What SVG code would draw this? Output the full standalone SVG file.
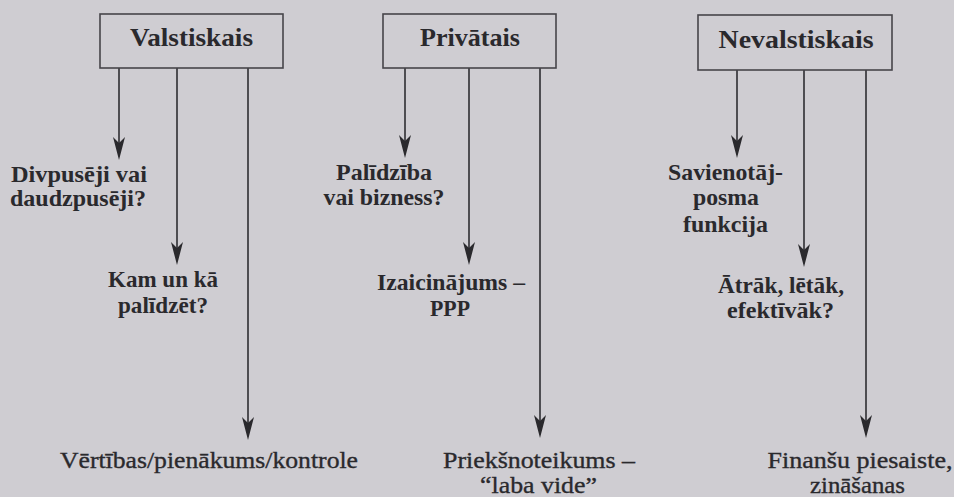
<svg xmlns="http://www.w3.org/2000/svg" width="954" height="497" viewBox="0 0 954 497">
<style>
.bg{fill:#cfcdd2}
.box{fill:#cfcdd2;stroke:#46454a;stroke-width:1.6}
.t{font-family:"Liberation Serif","Times New Roman",serif;fill:#2a292d}
.h{font-size:25px;font-weight:bold;text-anchor:middle}
.m{font-size:23px;font-weight:bold}
.c{text-anchor:middle}
.b{font-size:24px;text-anchor:middle;stroke:#2a292d;stroke-width:0.35}
.ln{stroke:#2e2d31;stroke-width:1.6;fill:none;marker-end:url(#ah)}
</style>
<defs>
<marker id="ah" markerUnits="userSpaceOnUse" viewBox="-24 -7 25 14" markerWidth="25" markerHeight="14" refX="-6" refY="0" orient="auto">
<path d="M0,0 L-23,-6 L-17,0 L-23,6 Z" fill="#2a292d"/>
</marker>
</defs>
<rect class="bg" x="0" y="0" width="954" height="497"/>

<g id="connectors">
<line class="ln" x1="119" y1="68" x2="119" y2="154"/>
<line class="ln" x1="177" y1="68" x2="177" y2="259"/>
<line class="ln" x1="248" y1="68" x2="248" y2="434"/>
<line class="ln" x1="405" y1="68" x2="405" y2="152"/>
<line class="ln" x1="469" y1="68" x2="469" y2="259"/>
<line class="ln" x1="540" y1="68" x2="540" y2="432"/>
<line class="ln" x1="737" y1="70" x2="737" y2="152"/>
<line class="ln" x1="804" y1="70" x2="804" y2="261"/>
<line class="ln" x1="866" y1="70" x2="866" y2="432"/>
</g>

<g id="valstiskais">
<rect class="box" x="100" y="14" width="183" height="54"/>
<text class="t h" x="191.5" y="46" textLength="123" lengthAdjust="spacingAndGlyphs">Valstiskais</text>
</g>
<g id="privatais">
<rect class="box" x="383" y="14" width="173" height="54"/>
<text class="t h" x="470" y="46" textLength="100" lengthAdjust="spacingAndGlyphs">Privātais</text>
</g>
<g id="nevalstiskais">
<rect class="box" x="698" y="15" width="194" height="55"/>
<text class="t h" x="796" y="48" textLength="155" lengthAdjust="spacingAndGlyphs">Nevalstiskais</text>
</g>

<g id="divpuseji">
<text class="t m" x="11" y="182" textLength="136" lengthAdjust="spacingAndGlyphs">Divpusēji vai</text>
<text class="t m" x="10" y="206" textLength="136" lengthAdjust="spacingAndGlyphs">daudzpusēji?</text>
</g>
<g id="kam-un-ka">
<text class="t m c" x="163" y="287" textLength="110" lengthAdjust="spacingAndGlyphs">Kam un kā</text>
<text class="t m c" x="163" y="313" textLength="90" lengthAdjust="spacingAndGlyphs">palīdzēt?</text>
</g>
<g id="vertibas">
<text class="t b" x="209" y="468" textLength="298" lengthAdjust="spacingAndGlyphs">Vērtības/pienākums/kontrole</text>
</g>

<g id="palidziba">
<text class="t m c" x="384" y="180" textLength="96" lengthAdjust="spacingAndGlyphs">Palīdzība</text>
<text class="t m c" x="384" y="205" textLength="121" lengthAdjust="spacingAndGlyphs">vai bizness?</text>
</g>
<g id="izaicinajums">
<text class="t m c" x="451" y="290" textLength="148" lengthAdjust="spacingAndGlyphs">Izaicinājums –</text>
<text class="t m c" x="450" y="316" textLength="40" lengthAdjust="spacingAndGlyphs">PPP</text>
</g>
<g id="prieksnoteikums">
<text class="t b" x="539" y="468" textLength="192" lengthAdjust="spacingAndGlyphs">Priekšnoteikums –</text>
<text class="t b" x="538.5" y="493" textLength="117" lengthAdjust="spacingAndGlyphs">“laba vide”</text>
</g>

<g id="savienotajposma">
<text class="t m c" x="725.5" y="180" textLength="115" lengthAdjust="spacingAndGlyphs">Savienotāj-</text>
<text class="t m c" x="726" y="205" textLength="66" lengthAdjust="spacingAndGlyphs">posma</text>
<text class="t m c" x="725.5" y="232" textLength="85" lengthAdjust="spacingAndGlyphs">funkcija</text>
</g>
<g id="atrak">
<text class="t m c" x="781" y="293" textLength="126" lengthAdjust="spacingAndGlyphs">Ātrāk, lētāk,</text>
<text class="t m c" x="780.5" y="318" textLength="107" lengthAdjust="spacingAndGlyphs">efektīvāk?</text>
</g>
<g id="finansu">
<text class="t b" x="860" y="468" textLength="185" lengthAdjust="spacingAndGlyphs">Finanšu piesaiste,</text>
<text class="t b" x="857.5" y="493" textLength="95" lengthAdjust="spacingAndGlyphs">zināšanas</text>
</g>
</svg>
